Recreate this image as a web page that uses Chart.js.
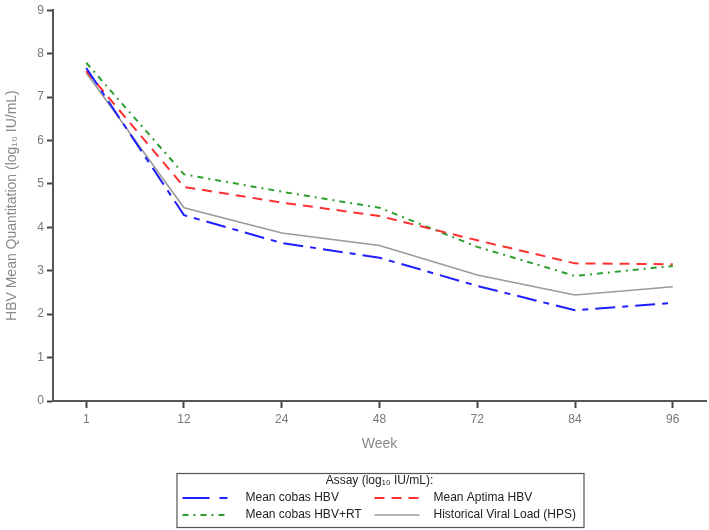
<!DOCTYPE html>
<html>
<head>
<meta charset="utf-8">
<script src="https://cdn.jsdelivr.net/npm/chart.js@4"></script>
<style>
  html, body { margin: 0; padding: 0; background: #fff; }
  #wrap { width: 709px; height: 530px; }
</style>
</head>
<body>
<div id="wrap"><canvas id="graphCanvasHBV"></canvas></div>
<script>
// weeks shown on the x axis
var weeks = [1, 12, 24, 48, 72, 84, 96];

// mean log10 IU/mL per assay
var cobasHBV    = [7.67, 4.28, 3.64, 3.30, 2.65, 2.09, 2.26];
var aptimaHBV   = [7.60, 4.93, 4.57, 4.26, 3.70, 3.17, 3.15];
var cobasHBVRT  = [7.79, 5.22, 4.82, 4.45, 3.55, 2.88, 3.11];
var historical  = [7.56, 4.45, 3.87, 3.58, 2.90, 2.44, 2.63];

var seriesNames = ['Mean cobas HBV', 'Mean Aptima HBV', 'Mean cobas HBV+RT', 'Historical Viral Load (HPS)'];
var yTicks = [0, 1, 2, 3, 4, 5, 6, 7, 8, 9];

function toPoints(values) {
  var pts = [];
  for (var i = 0; i < values.length; i++) {
    pts.push({x: i, y: values[i]});
  }
  return pts;
}

/**
* Legend box drawn under the plot: title line then two columns of two rows
*/
var assayLegend = {
  id: 'assayLegend',
  afterDraw: function (chart) {
    var ctx = chart.ctx;
    var area = chart.chartArea;
    var cx = (area.left + area.right) / 2;
    var bx = cx - 203, by = 473, bw = 407, bh = 54;

    ctx.save();
    ctx.strokeStyle = '#555';
    ctx.lineWidth = 1.2;
    ctx.strokeRect(bx + 0.5, by + 0.5, bw, bh);

    ctx.fillStyle = '#222';
    ctx.font = '12px "Liberation Sans", Arial, sans-serif';
    ctx.textAlign = 'center';
    ctx.textBaseline = 'middle';
    ctx.fillText('Assay (log\u2081\u2080 IU/mL):', cx, by + 8);

    // order in the box: blue, red / green, gray
    var slots = [[0, 0], [1, 0], [0, 1], [1, 1]];
    var colX = [bx + 6, bx + 198];
    var rowY = [by + 25, by + 42];
    ctx.textAlign = 'left';
    for (var i = 0; i < chart.data.datasets.length; i++) {
      var ds = chart.data.datasets[i];
      var sx = colX[slots[i][0]];
      var sy = rowY[slots[i][1]];
      ctx.save();
      ctx.strokeStyle = ds.borderColor;
      ctx.lineWidth = ds.borderWidth;
      ctx.setLineDash(ds.legendDash || ds.borderDash || []);
      ctx.beginPath();
      ctx.moveTo(sx, sy);
      ctx.lineTo(sx + 45, sy);
      ctx.stroke();
      ctx.restore();
      ctx.fillStyle = '#222';
      ctx.fillText(ds.label, sx + 63 - (slots[i][0] ? 4 : 0), sy);
    }
    ctx.restore();
  }
};

var chartdata = {
  datasets: [
    {
      label: seriesNames[0],
      data: toPoints(cobasHBV),
      borderColor: '#1f1fff',
      borderWidth: 2,
      borderDash: [20, 7, 6, 7],
      legendDash: [27, 10, 8, 10]
    },
    {
      label: seriesNames[1],
      data: toPoints(aptimaHBV),
      borderColor: '#ff3030',
      borderWidth: 2,
      borderDash: [10, 7]
    },
    {
      label: seriesNames[2],
      data: toPoints(cobasHBVRT),
      borderColor: '#2e9e2e',
      borderWidth: 2,
      borderDash: [6, 5, 2, 5]
    },
    {
      label: seriesNames[3],
      data: toPoints(historical),
      borderColor: '#9a9a9a',
      borderWidth: 1.6,
      borderDash: []
    }
  ]
};

var graphTarget = document.getElementById('graphCanvasHBV');

var lineGraph = new Chart(graphTarget, {
  type: 'line',
  data: chartdata,
  plugins: [assayLegend],
  options: {
    responsive: true,
    maintainAspectRatio: false,
    animation: false,
    layout: { padding: { top: 9, right: 3, bottom: 73, left: 0 } },
    elements: {
      point: { radius: 0, hoverRadius: 0 },
      line: { tension: 0, fill: false }
    },
    plugins: {
      legend: { display: false },
      tooltip: { enabled: false }
    },
    scales: {
      x: {
        type: 'linear',
        min: -0.34,
        max: 6.34,
        afterFit: function (s) { s.height = 56; },
        grid: { drawOnChartArea: false, tickLength: 7, tickColor: '#444', tickWidth: 2 },
        border: { color: '#555', width: 2 },
        ticks: {
          stepSize: 1,
          includeBounds: false,
          autoSkip: false,
          maxRotation: 0,
          padding: 4,
          color: '#777',
          font: { family: '"Liberation Sans", Arial, sans-serif', size: 12 },
          callback: function (v) { return weeks[v] !== undefined ? String(weeks[v]) : ''; }
        },
        title: {
          display: true,
          text: 'Week',
          color: '#888',
          font: { family: '"Liberation Sans", Arial, sans-serif', size: 14 }
        }
      },
      y: {
        min: yTicks[0],
        max: yTicks[yTicks.length - 1],
        afterFit: function (s) { s.width = 53; },
        grid: { drawOnChartArea: false, tickLength: 6, tickColor: '#444', tickWidth: 2 },
        border: { color: '#555', width: 2 },
        ticks: {
          stepSize: 1,
          padding: 3,
          color: '#777',
          font: { family: '"Liberation Sans", Arial, sans-serif', size: 12 }
        },
        title: {
          display: true,
          text: 'HBV Mean Quantitation (log\u2081\u2080 IU/mL)',
          color: '#888',
          font: { family: '"Liberation Sans", Arial, sans-serif', size: 14 }
        }
      }
    }
  }
});
</script>
</body>
</html>
